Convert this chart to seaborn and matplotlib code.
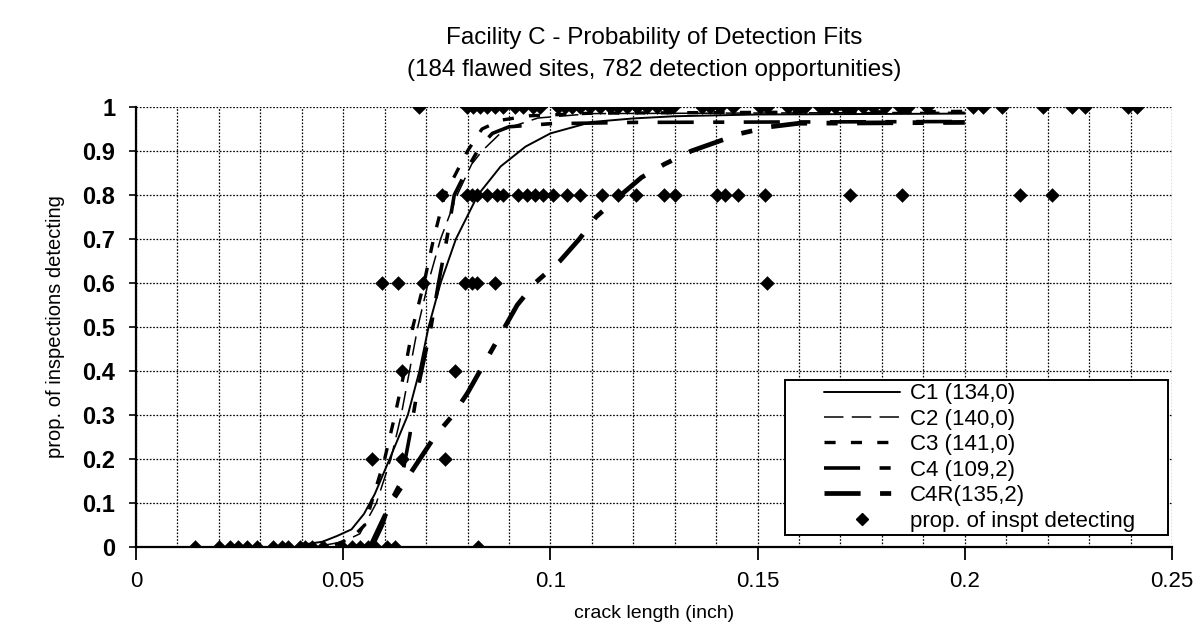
import matplotlib
matplotlib.use("Agg")
import matplotlib.pyplot as plt
import numpy as np
import pandas as pd
import seaborn as sns
from matplotlib import font_manager
from matplotlib.ticker import MultipleLocator, FuncFormatter
from matplotlib.lines import Line2D
from matplotlib.patches import Rectangle

# ---------------- data ----------------
# observed proportions of inspections detecting, grouped by level
x_at_000 = [0.0142, 0.0200, 0.0227, 0.0246, 0.0268, 0.0292, 0.0331, 0.0352, 0.0367,
            0.0396, 0.0408, 0.0425, 0.0451, 0.0497, 0.0521, 0.0541, 0.0560, 0.0577,
            0.0606, 0.0625, 0.0825]
x_at_020 = [0.0569, 0.0642, 0.0746]
x_at_040 = [0.0642, 0.0770]
x_at_060 = [0.0594, 0.0632, 0.0693, 0.0794, 0.0811, 0.0823, 0.0866, 0.1523]
x_at_080 = [0.0738, 0.0799, 0.0811, 0.0823, 0.0847, 0.0871, 0.0886, 0.0922, 0.0944,
            0.0963, 0.0982, 0.1006, 0.1040, 0.1071, 0.1125, 0.1163, 0.1207, 0.1274,
            0.1301, 0.1402, 0.1421, 0.1453, 0.1518, 0.1723, 0.1848, 0.2133, 0.2210]
x_at_100 = [0.0683, 0.0799, 0.0813, 0.0830, 0.0847, 0.0866, 0.0886, 0.0915, 0.0934,
            0.0958, 0.0975, 0.1018, 0.1035, 0.1052, 0.1071, 0.1096, 0.1120, 0.1144,
            0.1163, 0.1185, 0.1209, 0.1233, 0.1257, 0.1281, 0.1296, 0.1366, 0.1385,
            0.1409, 0.1441, 0.1506, 0.1523, 0.1573, 0.1595, 0.1614, 0.1651, 0.1667,
            0.1687, 0.1711, 0.1730, 0.1754, 0.1778, 0.1807, 0.1844, 0.1863, 0.1909,
            0.2020, 0.2044, 0.2090, 0.2189, 0.2259, 0.2290, 0.2394, 0.2416]
levels = [0.0, 0.2, 0.4, 0.6, 0.8, 1.0]
level_x = [x_at_000, x_at_020, x_at_040, x_at_060, x_at_080, x_at_100]

# fitted POD curves
c1_x = [0.040, 0.045, 0.0485, 0.052, 0.055, 0.0576, 0.0612, 0.0656, 0.0684, 0.0706,
        0.0735, 0.0772, 0.0825, 0.0880, 0.0940, 0.100, 0.110, 0.120, 0.130, 0.150, 0.200]
c1_y = [0.005, 0.012, 0.025, 0.040, 0.075, 0.120, 0.200, 0.300, 0.400, 0.500,
        0.600, 0.700, 0.800, 0.865, 0.910, 0.940, 0.966, 0.974, 0.979, 0.983, 0.985]

c2_x = [0.046, 0.050, 0.054, 0.058, 0.0615, 0.064, 0.066, 0.068, 0.0705, 0.0735,
        0.0775, 0.081, 0.0835, 0.089, 0.097, 0.110, 0.200]
c2_y = [0.005, 0.012, 0.030, 0.100, 0.200, 0.300, 0.400, 0.500, 0.600, 0.700,
        0.800, 0.870, 0.900, 0.950, 0.975, 0.985, 0.988]

c3_x = [0.048, 0.052, 0.0552, 0.0568, 0.060, 0.0625, 0.0648, 0.0668, 0.0695, 0.0718,
        0.0745, 0.080, 0.0835, 0.088, 0.095, 0.110, 0.200]
c3_y = [0.005, 0.020, 0.050, 0.100, 0.200, 0.300, 0.400, 0.500, 0.600, 0.700,
        0.800, 0.900, 0.950, 0.970, 0.980, 0.986, 0.990]

c4_x = [0.057, 0.0595, 0.0612, 0.064, 0.066, 0.0678, 0.0712, 0.073, 0.075, 0.0768,
        0.080, 0.083, 0.086, 0.090, 0.100, 0.120, 0.200]
c4_y = [0.000, 0.050, 0.100, 0.150, 0.250, 0.350, 0.500, 0.600, 0.700, 0.800,
        0.860, 0.910, 0.940, 0.955, 0.962, 0.965, 0.967]

c4r_x = [0.0565, 0.059, 0.0615, 0.065, 0.0685, 0.072, 0.0765, 0.080, 0.083, 0.086,
         0.089, 0.092, 0.0963, 0.1023, 0.107, 0.111, 0.117, 0.122, 0.1275, 0.134,
         0.140, 0.146, 0.153, 0.160, 0.200]
c4r_y = [0.000, 0.050, 0.100, 0.150, 0.200, 0.250, 0.300, 0.350, 0.400, 0.450,
         0.500, 0.550, 0.600, 0.650, 0.700, 0.750, 0.800, 0.840, 0.870, 0.900,
         0.920, 0.940, 0.955, 0.963, 0.965]

curve_names = ["C1 (134,0)", "C2 (140,0)", "C3 (141,0)", "C4 (109,2)", "C4R(135,2)"]
point_label = "prop. of inspt detecting"
x_ticks = [0, 0.05, 0.1, 0.15, 0.2, 0.25]
y_ticks = [0, 0.1, 0.2, 0.3, 0.4, 0.5, 0.6, 0.7, 0.8, 0.9, 1.0]

# ---------------- styling ----------------
sns.set_theme(style="white")
names = {f.name for f in font_manager.fontManager.ttflist}
narrow = "Liberation Sans Narrow" if "Liberation Sans Narrow" in names else "Liberation Sans"
plt.rcParams["font.family"] = [narrow, "DejaVu Sans"]
plt.rcParams["lines.scale_dashes"] = False

fig = plt.figure(figsize=(11.98, 6.32), dpi=100)
ax = fig.add_axes([136 / 1198, 1 - 547 / 632, 1036 / 1198, 440 / 632])

pts = pd.DataFrame({
    "crack": [x for xs in level_x for x in xs],
    "prop": [lv for lv, xs in zip(levels, level_x) for _ in xs],
})

curves = [
    (c1_x, c1_y, dict(lw=1.4)),
    (c2_x, c2_y, dict(lw=1.1, dashes=(14, 6))),
    (c3_x, c3_y, dict(lw=2.4, dashes=(8, 11))),
    (c4_x, c4_y, dict(lw=2.6, dashes=(26, 14, 8, 14))),
    (c4r_x, c4r_y, dict(lw=3.4, dashes=(26, 14, 8, 14))),
]
handles = []
for (cx, cy, st), name in zip(curves, curve_names):
    df = pd.DataFrame({"x": cx, "y": cy})
    sns.lineplot(data=df, x="x", y="y", ax=ax, color="black", estimator=None,
                 sort=False, zorder=3, **st)
    handles.append(Line2D([], [], color="black", **st))

sns.scatterplot(data=pts, x="crack", y="prop", ax=ax, marker="D", s=55,
                color="black", edgecolor="black", linewidth=0, zorder=5, legend=False)
handles.append(Line2D([], [], color="black", marker="D", markersize=6.5, lw=0))

ax.set_xlim(0, 0.25)
ax.set_ylim(0, 1)
ax.set_xticks(x_ticks)
ax.set_yticks(y_ticks)
ax.xaxis.set_minor_locator(MultipleLocator(0.01))
fmt = FuncFormatter(lambda v, p: f"{v:g}")
ax.xaxis.set_major_formatter(fmt)
ax.yaxis.set_major_formatter(fmt)
ax.grid(which="both", color="black", linestyle=(0, (1.2, 1.2)), linewidth=0.9, zorder=1)
ax.set_axisbelow(True)
for s in ["top", "right"]:
    ax.spines[s].set_visible(False)
for s in ["left", "bottom"]:
    ax.spines[s].set_color("black")
    ax.spines[s].set_linewidth(1.6)
ax.tick_params(axis="x", which="major", direction="out", length=9, width=1.3,
               color="black", labelsize=16, pad=8, bottom=True)
ax.tick_params(axis="x", which="minor", length=0)
ax.tick_params(axis="y", which="major", direction="out", length=5, width=1.2,
               color="black", labelsize=17, pad=10, left=True)
for lab in ax.get_xticklabels():
    lab.set_color("black")
for lab in ax.get_yticklabels():
    lab.set_color("black")
    lab.set_fontweight("bold")

ax.set_xlabel("crack length (inch)", fontsize=14, color="black", labelpad=10)
ax.set_ylabel("prop. of inspections detecting", fontsize=14.5, color="black", labelpad=12)
ax.set_title("Facility C - Probability of Detection Fits\n(184 flawed sites, 782 detection opportunities)",
             fontsize=17.5, color="black", pad=22, linespacing=1.6)

# legend box (drawn as a patch so its outline matches the reference position)
box = Rectangle((0.626, 0.027), 0.370, 0.353, transform=ax.transAxes,
                facecolor="white", edgecolor="black", linewidth=1.4, zorder=6)
ax.add_patch(box)
leg = ax.legend(handles, curve_names + [point_label], loc="center left",
                bbox_to_anchor=(0.6645, 0.2035), frameon=False,
                fontsize=16, handlelength=3.4, labelspacing=0.2,
                borderpad=0.0, handletextpad=0.45, borderaxespad=0)
leg.set_zorder(7)
for t in leg.get_texts():
    t.set_color("black")

fig.savefig("out.png", dpi=100, facecolor="white")
